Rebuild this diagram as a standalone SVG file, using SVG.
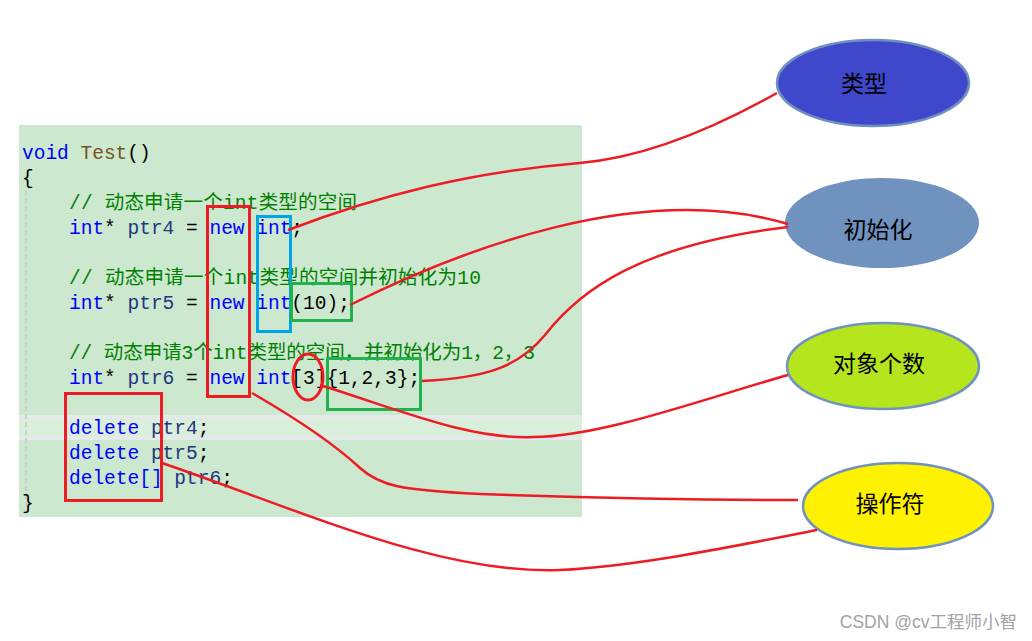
<svg xmlns="http://www.w3.org/2000/svg" width="1032" height="641" viewBox="0 0 1032 641">
<style>
.code{font-family:"Liberation Mono","Noto Sans CJK SC",monospace;font-size:19.5px;fill:#000}
.kw{fill:#0000ff}
.fn{fill:#74531f}
.id{fill:#1f377f}
.cm{fill:#008000}
.box{fill:none;stroke-width:3}
.red{stroke:#ed1c24}
.blue{stroke:#00a2e8}
.green{stroke:#22b14c}
.conn{fill:none;stroke:#ed1c24;stroke-width:2.5}
.lbl{font-family:"Noto Sans CJK SC",sans-serif;font-size:23px;fill:#000;text-anchor:middle;dominant-baseline:central}
</style>
<rect width="1032" height="641" fill="#fff"/>
<g id="code">
<rect x="19" y="125" width="563" height="392" fill="#cce8cf"/>
<rect x="19" y="415" width="563" height="25" fill="#e6e8ee"/>
<rect x="19" y="418" width="563" height="19" fill="#daeedc"/>
<line x1="26" y1="190" x2="26" y2="512" stroke="#c9cfc9" stroke-width="2" stroke-dasharray="5 3"/>
<text class="code" xml:space="preserve" x="22" y="159"><tspan class="kw">void</tspan> <tspan class="fn">Test</tspan>()</text>
<text class="code" x="22" y="184">{</text>
<text class="code cm" x="69" y="209" textLength="288" lengthAdjust="spacing">// 动态申请一个int类型的空间</text>
<text class="code" xml:space="preserve" x="69" y="234"><tspan class="kw">int</tspan>* <tspan class="id">ptr4</tspan> = <tspan class="kw">new</tspan> <tspan class="kw">int</tspan>;</text>
<text class="code cm" x="69" y="284" textLength="412" lengthAdjust="spacing">// 动态申请一个int类型的空间并初始化为10</text>
<text class="code" xml:space="preserve" x="69" y="309"><tspan class="kw">int</tspan>* <tspan class="id">ptr5</tspan> = <tspan class="kw">new</tspan> <tspan class="kw">int</tspan>(10);</text>
<text class="code cm" x="69" y="359" textLength="466" lengthAdjust="spacing">// 动态申请3个int类型的空间，并初始化为1，2，3</text>
<text class="code" xml:space="preserve" x="69" y="384"><tspan class="kw">int</tspan>* <tspan class="id">ptr6</tspan> = <tspan class="kw">new</tspan> <tspan class="kw">int</tspan>[3]{1,2,3};</text>
<text class="code" xml:space="preserve" x="69" y="434"><tspan class="kw">delete</tspan> <tspan class="id">ptr4</tspan>;</text>
<text class="code" xml:space="preserve" x="69" y="459"><tspan class="kw">delete</tspan> <tspan class="id">ptr5</tspan>;</text>
<text class="code" xml:space="preserve" x="69" y="484"><tspan class="kw">delete[]</tspan> <tspan class="id">ptr6</tspan>;</text>
<text class="code" x="22" y="509">}</text>
</g>
<g id="marks">
<rect class="box red" x="207.5" y="206.5" width="42" height="190"/>
<rect class="box blue" x="257.5" y="216.5" width="33" height="115"/>
<rect class="box green" x="291.5" y="283.5" width="60" height="37"/>
<rect class="box green" x="327.5" y="358.5" width="93" height="51"/>
<ellipse class="box red" cx="308" cy="377" rx="15" ry="23"/>
<rect class="box red" x="65.5" y="393.5" width="96" height="107"/>
</g>
<g id="node-type">
<ellipse cx="873" cy="83" rx="96" ry="43" fill="#3f48cc" stroke="#6f8fbf" stroke-width="2.5"/>
<text class="lbl" x="864" y="82">类型</text>
</g>
<g id="node-init">
<ellipse cx="882" cy="223" rx="97" ry="45" fill="#7092be"/>
<text class="lbl" x="878" y="228">初始化</text>
</g>
<g id="node-count">
<ellipse cx="883" cy="366" rx="96" ry="43" fill="#b5e61d" stroke="#7092be" stroke-width="2.5"/>
<text class="lbl" x="879" y="362">对象个数</text>
</g>
<g id="node-op">
<ellipse cx="898" cy="506" rx="95" ry="43" fill="#fff200" stroke="#7092be" stroke-width="2.5"/>
<text class="lbl" x="890" y="502">操作符</text>
</g>
<g id="connectors">
<path class="conn" d="M288,230 C380,195 470,172 580,163 C650,157 720,125 777,93"/>
<path class="conn" d="M350,305 C460,250 640,180 788,224"/>
<path class="conn" d="M422,381 C490,378 520,365 545,335 C580,290 640,245 788,227"/>
<path class="conn" d="M320,385 C400,410 470,440 533,437 C600,437 700,400 788,375"/>
<path class="conn" d="M252,393 C290,415 330,440 360,468 C380,486 400,490 480,494 C600,498 700,500 798,500"/>
<path class="conn" d="M162,463 C300,510 440,575 560,570 C640,566 740,545 817,530"/>
</g>
<text x="1017" y="628" text-anchor="end" font-family="Liberation Sans,'Noto Sans CJK SC',sans-serif" font-size="17.5" fill="#a3a3a3">CSDN @cv工程师小智</text>
</svg>
